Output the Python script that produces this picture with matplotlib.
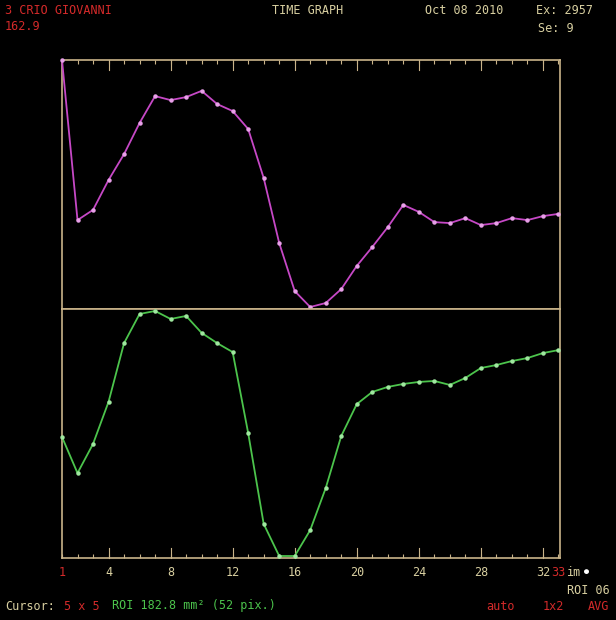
import matplotlib
matplotlib.use("Agg")
import matplotlib.pyplot as plt
import numpy as np

# Frame numbers and the two ROI time curves (percent of range)
frames = list(range(1, 34))
curve_top = [100, 35.7, 39.8, 51.8, 62.2, 74.7, 85.5, 83.9, 85.1, 87.6, 82.3,
             79.5, 72.3, 52.6, 26.5, 7.2, 0.8, 2.4, 8.0, 17.3, 24.9, 32.9,
             41.8, 39.0, 34.9, 34.5, 36.5, 33.7, 34.5, 36.5, 35.7, 37.3, 38.2]
curve_bottom = [48.6, 34.1, 45.8, 62.7, 86.3, 98.0, 99.2, 96.0, 97.2, 90.4,
                86.3, 82.7, 50.2, 13.7, 0.8, 0.8, 11.2, 28.1, 49.0, 61.8,
                66.7, 68.7, 69.9, 70.7, 71.1, 69.5, 72.3, 76.3, 77.5, 79.1,
                80.3, 82.3, 83.5]
tick_labels = ["4", "8", "12", "16", "20", "24", "28", "32"]
tick_frames = [4, 8, 12, 16, 20, 24, 28, 32]

BG = "black"
FRAME = "#c9b48a"
MAG = "#c648c6"
GRN = "#4cc44c"
RED = "#d42a2a"
TAN = "#d8cfa0"
MONO = "DejaVu Sans Mono"

W, H = 616, 620
fig = plt.figure(figsize=(W / 100, H / 100), dpi=100, facecolor=BG)

left, right = 62 / W, 560 / W
top_y, mid_y, bot_y = 60, 309, 558
ax_top = fig.add_axes([left, 1 - mid_y / H, right - left, (mid_y - top_y) / H])
ax_bot = fig.add_axes([left, 1 - bot_y / H, right - left, (bot_y - mid_y) / H])

for ax in (ax_top, ax_bot):
    ax.set_facecolor(BG)
    ax.set_xlim(1, 33.1)
    ax.set_ylim(0, 100)
    ax.set_yticks([])
    for s in ax.spines.values():
        s.set_color(FRAME)
        s.set_linewidth(1.2)

ax_top.plot(frames, curve_top, color=MAG, lw=1.3, marker="o", ms=2.2,
            mfc="#e8a0e8", mec="#e8a0e8", clip_on=False, zorder=3)
ax_bot.plot(frames, curve_bottom, color=GRN, lw=1.3, marker="o", ms=2.2,
            mfc="#a0e8a0", mec="#a0e8a0", clip_on=False, zorder=3)

# inward tick marks on the top edge and bottom edge
ax_top.xaxis.set_ticks_position("top")
ax_top.set_xticks(frames)
ax_top.set_xticklabels([])
ax_top.tick_params(axis="x", direction="in", length=3, color=FRAME, width=0.8)
ax_bot.set_xticks(frames)
ax_bot.set_xticklabels([])
ax_bot.tick_params(axis="x", direction="in", length=3, color=FRAME, width=0.8)
for f in tick_frames:
    ax_top.plot([f, f], [100, 96], color=FRAME, lw=0.8, clip_on=False)
    ax_bot.plot([f, f], [0, 4], color=FRAME, lw=0.8, clip_on=False)

# frame number labels under the lower panel
for f, lab in zip(tick_frames, tick_labels):
    ax_bot.text(f, -6, lab, color=TAN, fontsize=8.5, family=MONO,
                ha="center", va="center", clip_on=False)
ax_bot.text(1, -6, "1", color=RED, fontsize=8.5, family=MONO,
            ha="center", va="center", clip_on=False)

def t(x, y, s, color, ha="left", size=8.5):
    fig.text(x / W, 1 - y / H, s, color=color, fontsize=size, family=MONO,
             ha=ha, va="center")

t(551, 572, "33", RED)
t(567, 572, "im", TAN)
t(584, 572, "\u25cf", "white", size=6)

# header
t(5, 11, "3 CRIO GIOVANNI", RED)
t(5, 27, "162.9", RED)
t(308, 11, "TIME GRAPH", TAN, ha="center")
t(425, 11, "Oct 08 2010", TAN)
t(536, 11, "Ex: 2957", TAN)
t(538, 28, "Se: 9", TAN)

# footer
t(5, 606, "Cursor:", TAN)
t(64, 606, "5 x 5", RED)
t(112, 606, "ROI 182.8 mm\u00b2 (52 pix.)", GRN)
t(567, 590, "ROI 06", TAN)
t(486, 607, "auto", RED)
t(543, 607, "1x2", RED)
t(588, 607, "AVG", RED)

fig.savefig("out.png", dpi=100, facecolor=BG)
